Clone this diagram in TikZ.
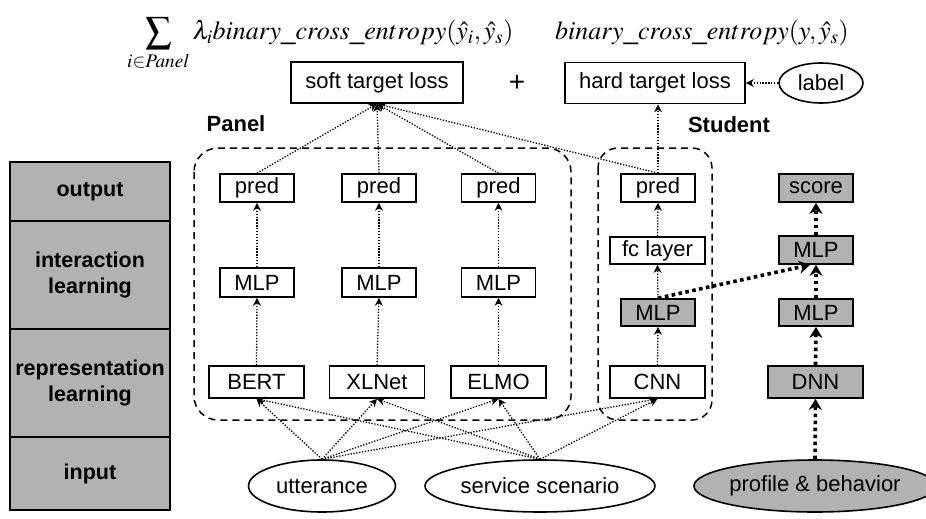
\documentclass[tikz,border=0pt]{standalone}
\usepackage{mathptmx}
\usepackage{fontspec}
\setmainfont{Liberation Sans}
\usetikzlibrary{arrows.meta,shapes.geometric,calc}
\definecolor{boxgray}{RGB}{178,178,178}
\tikzset{
  txt/.style={font=\fontsize{22}{26}\selectfont},
  bx/.style={txt, draw, line width=1.7pt, fill=white, inner sep=0pt, minimum height=28pt, minimum width=74pt},
  gbx/.style={bx, fill=boxgray},
  wbx/.style={bx, minimum width=95pt, minimum height=32pt},
  gwbx/.style={wbx, fill=boxgray},
  lossbox/.style={bx, minimum height=41pt, inner xsep=8pt},
  ell/.style={txt, draw, ellipse, line width=1.6pt, fill=white, inner sep=0pt, minimum height=52pt},
  lcol/.style={draw, line width=1.4pt, fill=boxgray, inner sep=0pt, minimum width=160pt, align=center,
               font=\fontsize{21.5}{26}\selectfont\bfseries},
  dashbox/.style={draw, line width=1.5pt, dash pattern=on 7pt off 5pt, rounded corners=24pt},
  arr/.style={draw, line width=1.3pt, dash pattern=on 1.3pt off 1.6pt, -{Stealth[length=8pt,width=8pt]}},
  tarr/.style={draw, line width=3.6pt, dash pattern=on 3.6pt off 3.4pt, -{Stealth[length=11pt,width=13pt]}},
  lbl/.style={font=\fontsize{22}{26}\selectfont\bfseries},
  mth/.style={font=\fontsize{26}{30}\selectfont, inner sep=0pt},
}
\begin{document}
\begin{tikzpicture}[x=1pt,y=-1pt]
\useasboundingbox (0,0) rectangle (926,519);

% formulas
\node[mth, anchor=base west] (f1) at (127,40) {$\displaystyle\sum_{i\in Panel}\lambda_i binary\_cross\_entropy(\hat{y}_i,\hat{y}_s)$};
\node[mth, anchor=base west] (f2) at (555,40) {$binary\_cross\_entropy(y,\hat{y}_s)$};

% losses
\node[lossbox, minimum width=172pt] (soft) at (377,82.5) {soft target loss};
\node[txt, font=\fontsize{28}{30}\selectfont] (plus) at (517,83) {+};
\node[lossbox, minimum width=180pt] (hard) at (655,83) {hard target loss};
\node[ell, minimum width=84pt, minimum height=40pt] (label) at (821,83) {label};

% group labels
\node[lbl] (panel) at (236,124) {Panel};
\node[lbl] (student) at (729,125) {Student};

% dashed groups
\draw[dashbox] (194,148) rectangle (571,420);
\draw[dashbox, rounded corners=20pt] (598,148) rectangle (712,420);

% left column
\node[lcol, minimum height=59pt] (lout) at (90,191.5) {output};
\node[lcol, minimum height=108pt] (lint) at (90,275) {interaction\\learning};
\node[lcol, minimum height=108pt] (lrep) at (90,383) {representation\\learning};
\node[lcol, minimum height=73pt] (lin) at (90,473.5) {input};

% panel columns
\node[bx] (p1) at (257,188) {pred};
\node[bx] (p2) at (379,188) {pred};
\node[bx] (p3) at (498.5,188) {pred};
\node[bx, minimum height=29pt] (m1) at (257,282.5) {MLP};
\node[bx, minimum height=29pt] (m2) at (379,282.5) {MLP};
\node[bx, minimum height=29pt] (m3) at (498.5,282.5) {MLP};
\node[wbx] (bert) at (256.5,382) {BERT};
\node[wbx] (xlnet) at (377,382) {XLNet};
\node[wbx] (elmo) at (498.5,382) {ELMO};

% student
\node[bx] (sp) at (658,188) {pred};
\node[wbx, minimum height=27pt] (fc) at (657.5,250.5) {fc layer};
\node[gbx, minimum height=27pt] (sm) at (658,312.5) {MLP};
\node[wbx] (cnn) at (657.5,382) {CNN};

% right column
\node[gbx] (score) at (816,188) {score};
\node[gbx] (rm1) at (816,250) {MLP};
\node[gbx, minimum height=27pt] (rm2) at (816,312.5) {MLP};
\node[gwbx] (dnn) at (815.5,382) {DNN};

% inputs
\node[ell, minimum width=147pt] (utt) at (322,486) {utterance};
\node[ell, minimum width=230pt] (svc) at (540,486) {service scenario};
\node[ell, minimum width=222pt, fill=boxgray] (prof) at (815,486) {profile \& behavior};

% panel arrows
\foreach \a/\b/\c in {p1/m1/bert, p2/m2/xlnet, p3/m3/elmo}{
  \draw[arr] (\b.north) -- (\a.south);
  \draw[arr] (\c.north) -- (\b.south);
  \draw[arr] (\a.north) -- (soft.south);
}
% student arrows
\draw[arr] (fc.north) -- (sp.south);
\draw[arr] (sm.north) -- (fc.south);
\draw[arr] (cnn.north) -- (sm.south);
\draw[arr] (sp.north) -- (soft.south);
\draw[arr] (sp.north) -- (sp.north |- hard.south);
\draw[arr] (label.west) -- (hard.east);

% input arrows
\foreach \t in {bert, xlnet, elmo, cnn}{
  \draw[arr] (utt.north) -- (\t.south);
  \draw[arr] (svc.north) -- (\t.south);
}

% right column arrows
\draw[tarr] (prof.north) -- (dnn.south);
\draw[tarr] (dnn.north) -- (rm2.south);
\draw[tarr] (rm2.north) -- (rm1.south);
\draw[tarr] (rm1.north) -- (score.south);
\draw[tarr] (sm.north) -- ($(rm1.south)+(-6,0)$);
\end{tikzpicture}
\end{document}
